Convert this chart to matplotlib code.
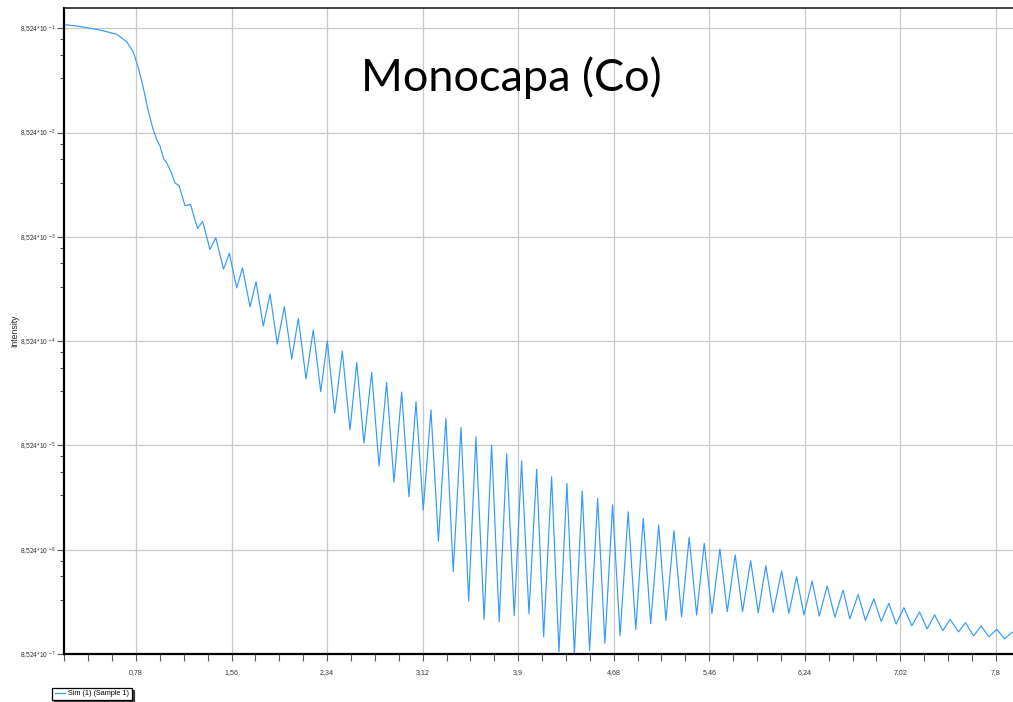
import matplotlib
matplotlib.use("Agg")
import matplotlib.pyplot as plt
from matplotlib.ticker import FixedLocator, FixedFormatter, MultipleLocator, NullFormatter

# Simulated reflectivity curve (2theta in degrees, intensity in cps)
two_theta = [
    0.192, 0.323, 0.486, 0.622, 0.704, 0.758, 0.799, 0.840, 0.880, 0.921,
    0.951, 0.976, 1.004, 1.033, 1.066, 1.098, 1.131, 1.180, 1.225, 1.282,
    1.324, 1.384, 1.431, 1.494, 1.542, 1.602, 1.649, 1.711, 1.760, 1.819,
    1.874, 1.933, 1.991, 2.051, 2.105, 2.168, 2.227, 2.288, 2.342, 2.402,
    2.464, 2.527, 2.582, 2.641, 2.704, 2.764, 2.826, 2.886, 2.949, 3.008,
    3.066, 3.125, 3.188, 3.249, 3.310, 3.370, 3.433, 3.496, 3.555, 3.622,
    3.683, 3.745, 3.806, 3.868, 3.928, 3.988, 4.051, 4.108, 4.173, 4.233,
    4.298, 4.359, 4.423, 4.483, 4.549, 4.608, 4.671, 4.732, 4.798, 4.860,
    4.921, 4.982, 5.047, 5.106, 5.172, 5.234, 5.296, 5.357, 5.419, 5.482,
    5.547, 5.607, 5.672, 5.732, 5.798, 5.860, 5.922, 5.982, 6.051, 6.110,
    6.173, 6.233, 6.300, 6.358, 6.423, 6.486, 6.553, 6.608, 6.676, 6.735,
    6.804, 6.864, 6.926, 6.986, 7.049, 7.114, 7.177, 7.239, 7.300, 7.367,
    7.427, 7.495, 7.553, 7.618, 7.680, 7.743, 7.808, 7.871, 7.933,
]
intensity = [
    0.927, 0.887, 0.821, 0.747, 0.634, 0.505, 0.355, 0.228, 0.137, 0.0902,
    0.0724, 0.0634, 0.0486, 0.0431, 0.0357, 0.0280, 0.0265, 0.0170, 0.0174, 0.01026,
    0.01197, 0.00645, 0.00837, 0.00419, 0.00593, 0.00276, 0.00429, 0.00182, 0.00317, 0.00119,
    0.00241, 8.00e-4, 0.00182, 5.75e-4, 0.00141, 3.70e-4, 0.00109, 2.79e-4, 8.55e-4, 1.74e-4,
    6.86e-4, 1.20e-4, 5.30e-4, 8.99e-5, 4.29e-4, 5.41e-5, 3.44e-4, 3.80e-5, 2.77e-4, 2.75e-5,
    2.24e-4, 2.05e-5, 1.86e-4, 1.03e-5, 1.55e-4, 5.25e-6, 1.27e-4, 2.76e-6, 1.03e-4, 1.83e-6,
    8.60e-5, 1.74e-6, 7.06e-5, 1.99e-6, 6.05e-5, 2.08e-6, 5.03e-5, 1.25e-6, 4.27e-5, 8.97e-7,
    3.69e-5, 8.58e-7, 3.12e-5, 9.21e-7, 2.65e-5, 1.08e-6, 2.29e-5, 1.27e-6, 1.97e-5, 1.46e-6,
    1.71e-5, 1.67e-6, 1.47e-5, 1.79e-6, 1.30e-5, 1.94e-6, 1.12e-5, 2.02e-6, 9.82e-6, 2.09e-6,
    8.66e-6, 2.17e-6, 7.59e-6, 2.17e-6, 6.69e-6, 2.12e-6, 5.99e-6, 2.14e-6, 5.33e-6, 2.09e-6,
    4.70e-6, 2.02e-6, 4.27e-6, 1.97e-6, 3.83e-6, 1.92e-6, 3.50e-6, 1.85e-6, 3.18e-6, 1.79e-6,
    2.88e-6, 1.75e-6, 2.61e-6, 1.65e-6, 2.37e-6, 1.59e-6, 2.16e-6, 1.48e-6, 2.02e-6, 1.43e-6,
    1.83e-6, 1.39e-6, 1.70e-6, 1.27e-6, 1.58e-6, 1.25e-6, 1.47e-6, 1.19e-6, 1.38e-6,
]

x_ticks = [0.78, 1.56, 2.34, 3.12, 3.9, 4.68, 5.46, 6.24, 7.02, 7.8]
x_tick_labels = ["0,78", "1,56", "2,34", "3,12", "3,9", "4,68", "5,46", "6,24", "7,02", "7,8"]
y_exponents = [-7, -6, -5, -4, -3, -2, -1]
y_ticks = [8.524 * 10.0 ** k for k in y_exponents]
y_tick_labels = [r"8,524*10$^{\,%d}$" % k for k in y_exponents]

title = "Monocapa (Co)"
series_label = "Sim (1) (Sample 1)"

plt.rcParams["font.family"] = ["Liberation Sans", "DejaVu Sans"]
plt.rcParams["mathtext.fontset"] = "custom"
plt.rcParams["mathtext.rm"] = "Liberation Sans"
plt.rcParams["mathtext.it"] = "Liberation Sans"

W, H = 1013, 702
fig = plt.figure(figsize=(W / 100, H / 100), dpi=100)
left, right, top, bottom = 64, 1013, 7.5, 654
ax = fig.add_axes([left / W, (H - bottom) / H, (right - left) / W, (bottom - top) / H])

line, = ax.plot(two_theta, intensity, color="#3399ff", lw=0.85, label=series_label,
                solid_joinstyle="round")

ax.set_yscale("log")
ax.set_xlim(0.192, 7.94)
ax.set_ylim(8.524e-7, 1.349)

ax.xaxis.set_major_locator(FixedLocator(x_ticks))
ax.xaxis.set_major_formatter(FixedFormatter(x_tick_labels))
ax.xaxis.set_minor_locator(MultipleLocator(0.195))

ax.yaxis.set_major_locator(FixedLocator(y_ticks))
ax.yaxis.set_major_formatter(FixedFormatter(y_tick_labels))
minor_y = [v * 10.0 ** -f for v in y_ticks[1:] for f in (0.105, 0.255, 0.48)]
ax.yaxis.set_minor_locator(FixedLocator(minor_y))
ax.yaxis.set_minor_formatter(NullFormatter())

ax.grid(True, which="major", color="#c8c8c8", lw=0.9)
ax.set_axisbelow(True)

for side in ("left", "bottom"):
    ax.spines[side].set_linewidth(1.6)
    ax.spines[side].set_color("black")
ax.spines["top"].set_linewidth(1.2)
ax.spines["top"].set_color("#222222")
ax.spines["right"].set_visible(False)

ax.tick_params(axis="both", which="major", direction="out", length=5, width=0.8,
               color="#555555", labelsize=5.1, labelcolor="#333333", pad=1)
ax.tick_params(axis="y", which="major", labelsize=4.8, pad=0.8)
ax.tick_params(axis="both", which="minor", direction="out", length=3, width=0.8,
               color="#555555")
ax.tick_params(axis="x", which="major", pad=6)
ax.tick_params(axis="x", which="minor", length=5)

ax.set_ylabel("Intensity", fontsize=6.2, color="#222222")
ax.yaxis.set_label_coords((19 - left) / (right - left), 0.50)

fig.text(511 / W, 1 - 78 / H, title, ha="center", va="center",
         fontsize=32.5, family="Lato", color="black")

leg = ax.legend(handles=[line], loc="lower left",
                bbox_to_anchor=(52 / W, 2 / H), bbox_transform=fig.transFigure,
                fontsize=5.2, frameon=True, fancybox=False, handlelength=1.5,
                handletextpad=0.4, borderpad=0.35, borderaxespad=0.0,
                shadow={"ox": 1.5, "oy": -1.5, "color": "black", "alpha": 0.7})
leg.get_frame().set_edgecolor("black")
leg.get_frame().set_linewidth(0.9)
leg.get_frame().set_alpha(1.0)

fig.savefig("out.png", dpi=100)
